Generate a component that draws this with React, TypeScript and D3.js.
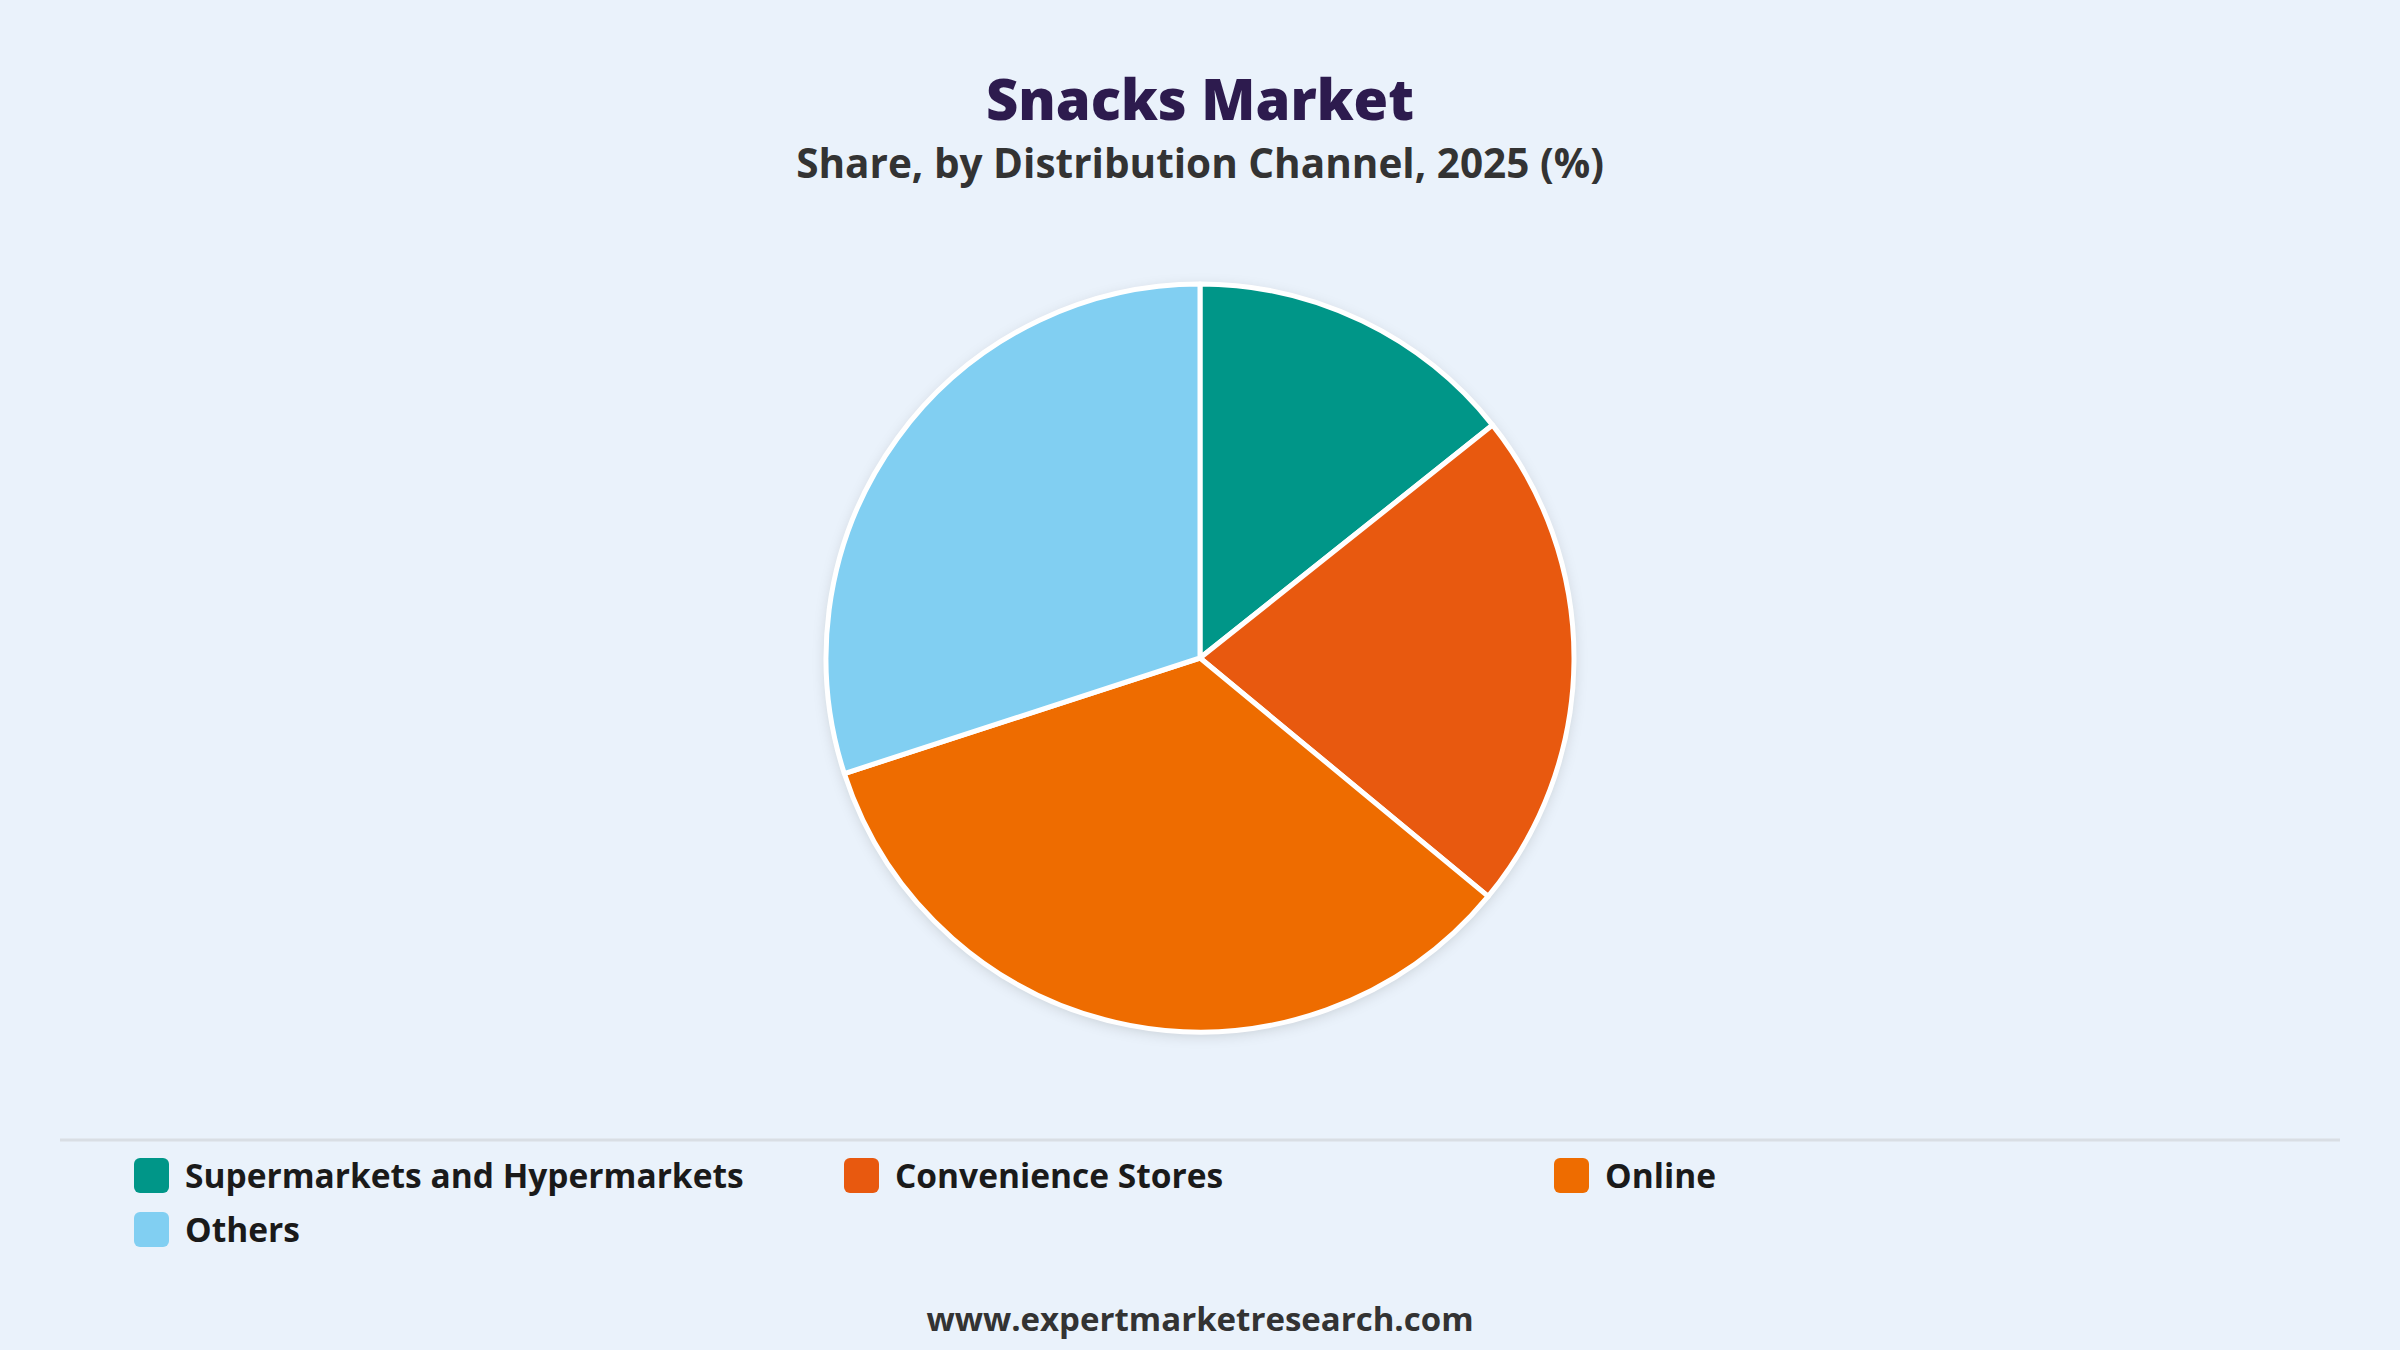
import React from "react";
import * as d3 from "d3";

const categories = ["Supermarkets and Hypermarkets", "Convenience Stores", "Online", "Others"];
const shares = [14.3, 21.7, 34.0, 30.0];
const colors = ["#009688", "#E8590F", "#EE6C00", "#81CFF2"];

const W = 2400;
const H = 1350;

export default function App() {
  const cx = 1200;
  const cy = 658;
  const r = 374;
  const pie = d3.pie<number>().sort(null).value((d) => d)(shares);
  const arc = d3.arc<d3.PieArcDatum<number>>().innerRadius(0).outerRadius(r);
  const colX = d3.scalePoint<number>().domain([0, 1, 2]).range([134, 1554]);
  const rowY = (i: number) => 1158 + Math.floor(i / 3) * 54;
  const font = "'Open Sans', 'Noto Sans', sans-serif";
  return (
    <svg
      width={W}
      height={H}
      style={{ position: "absolute", left: 0, top: 0 }}
      fontFamily={font}
    >
      <defs>
        <filter id="shadow" x="-20%" y="-20%" width="140%" height="140%">
          <feDropShadow dx="0" dy="3" stdDeviation="7" floodColor="#000" floodOpacity="0.16" />
        </filter>
      </defs>
      <rect width={W} height={H} fill="#EAF2FB" />
      <text x={cx} y={120} textAnchor="middle" fontSize={56} fontWeight={800} fill="#2D1B4E">
        Snacks Market
      </text>
      <text x={cx} y={178} textAnchor="middle" fontSize={40.5} fontWeight={700} fill="#333333">
        Share, by Distribution Channel, 2025 (%)
      </text>
      <g transform={`translate(${cx},${cy})`}>
        <circle r={r} fill="#fff" filter="url(#shadow)" />
        {pie.map((p, i) => (
          <path key={i} d={arc(p) || ""} fill={colors[i]} stroke="#fff" strokeWidth={5} strokeLinejoin="round" />
        ))}
      </g>
      <line x1={60} x2={2340} y1={1140} y2={1140} stroke="#D9DEE4" strokeWidth={3} />
      {categories.map((c, i) => {
        const x = colX(i % 3) as number;
        const y = rowY(i);
        return (
          <g key={c}>
            <rect x={x} y={y} width={35} height={35} rx={6} fill={colors[i]} />
            <text x={x + 51} y={y + 30} fontSize={33.5} fontWeight={700} fill="#1A1A1A">
              {c}
            </text>
          </g>
        );
      })}
      <text x={cx} y={1331} textAnchor="middle" fontSize={33} fontWeight={700} fill="#333333">
        www.expertmarketresearch.com
      </text>
    </svg>
  );
}
